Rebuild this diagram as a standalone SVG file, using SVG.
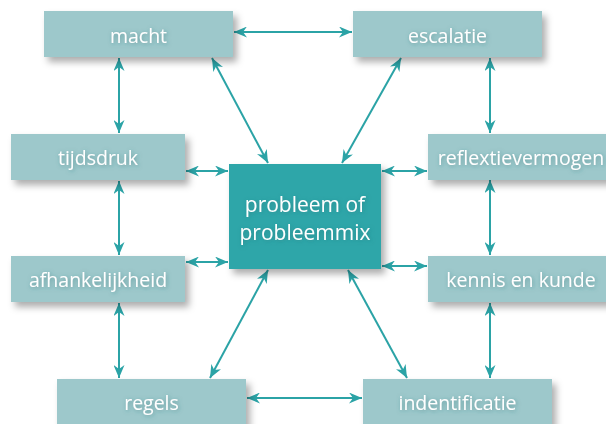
<svg xmlns="http://www.w3.org/2000/svg" width="606" height="424" viewBox="0 0 606 424">
<style>
.box{fill:#9dc8cb;filter:url(#sh)}
.main{fill:#2ea6a9;filter:url(#sh)}
.lbl{font-family:"Open Sans","Noto Sans","DejaVu Sans",sans-serif;font-size:19.5px;fill:#ffffff;text-anchor:middle;filter:url(#tsh)}
.big{font-size:21px}
.con line{stroke:#2ba3a6;stroke-width:2;fill:none;marker-start:url(#ah);marker-end:url(#ah)}
</style>
<defs>
<filter id="sh" x="-20%" y="-30%" width="140%" height="170%">
<feDropShadow dx="4" dy="5" stdDeviation="3.5" flood-color="#000" flood-opacity="0.32"/>
</filter>
<filter id="tsh" x="-20%" y="-40%" width="140%" height="180%">
<feDropShadow dx="1" dy="1" stdDeviation="2" flood-color="#2b6f72" flood-opacity="0.5"/>
</filter>
<marker id="ah" viewBox="0 0 13 11" refX="13" refY="5.5" markerWidth="13" markerHeight="11" markerUnits="userSpaceOnUse" orient="auto-start-reverse">
<path d="M0,0 L13,5.5 L0,11 L4,5.5 z" fill="#2ba3a6"/>
</marker>
</defs>
<rect width="606" height="424" fill="#ffffff"/>
<g id="connectors" class="con">
<line x1="234" y1="32" x2="352" y2="32"/>
<line x1="119" y1="58" x2="119" y2="133"/>
<line x1="119" y1="181" x2="119" y2="255"/>
<line x1="119" y1="303" x2="119" y2="378"/>
<line x1="490" y1="58" x2="490" y2="133"/>
<line x1="490" y1="180" x2="490" y2="255"/>
<line x1="490" y1="303" x2="490" y2="378"/>
<line x1="247" y1="398" x2="362" y2="398"/>
<line x1="186" y1="171" x2="228" y2="171"/>
<line x1="186" y1="262" x2="228" y2="262"/>
<line x1="382" y1="171" x2="427" y2="171"/>
<line x1="382" y1="266" x2="427" y2="266"/>
<line x1="212" y1="58" x2="268" y2="163"/>
<line x1="401" y1="58" x2="342" y2="163"/>
<line x1="268" y1="270" x2="210" y2="378"/>
<line x1="348" y1="270" x2="407" y2="378"/>
</g>
<g id="macht"><rect class="box" x="44" y="11" width="189" height="46"/><text class="lbl" x="138.5" y="43">macht</text></g>
<g id="escalatie"><rect class="box" x="353" y="11" width="189" height="46"/><text class="lbl" x="447.5" y="43">escalatie</text></g>
<g id="tijdsdruk"><rect class="box" x="11" y="134" width="174" height="46"/><text class="lbl" x="98" y="165">tijdsdruk</text></g>
<g id="reflextievermogen"><rect class="box" x="428" y="134" width="186" height="46"/><text class="lbl" x="521" y="165">reflextievermogen</text></g>
<g id="afhankelijkheid"><rect class="box" x="11" y="256" width="174" height="46"/><text class="lbl" x="98" y="287">afhankelijkheid</text></g>
<g id="kennis"><rect class="box" x="428" y="256" width="186" height="46"/><text class="lbl" x="521" y="287">kennis en kunde</text></g>
<g id="regels"><rect class="box" x="57" y="379" width="189" height="50"/><text class="lbl" x="151.5" y="410">regels</text></g>
<g id="indentificatie"><rect class="box" x="363" y="379" width="189" height="50"/><text class="lbl" x="457.5" y="410">indentificatie</text></g>
<g id="probleem"><rect class="main" x="229" y="164" width="152" height="105"/><text class="lbl big" x="305" y="212">probleem of</text><text class="lbl big" x="305" y="240">probleemmix</text></g>
</svg>
